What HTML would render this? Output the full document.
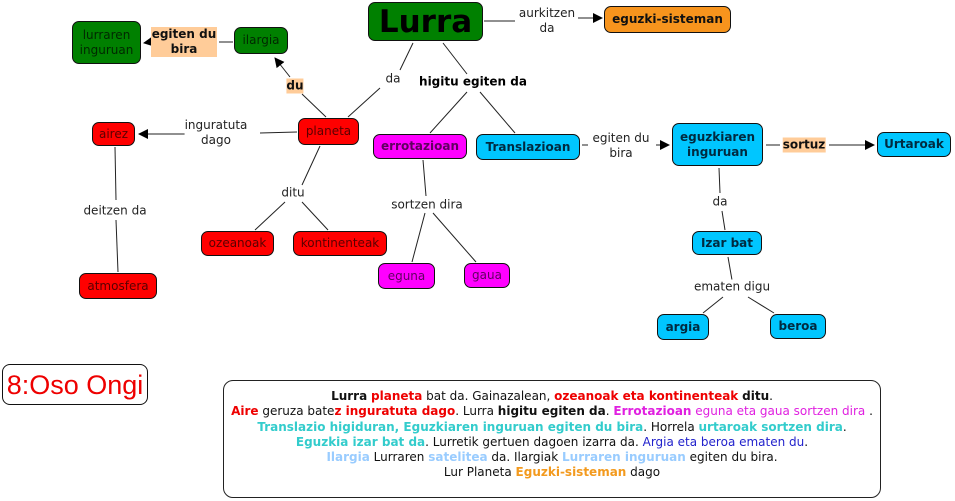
<!DOCTYPE html>
<html><head><meta charset="utf-8"><style>
body{margin:0;width:955px;height:501px;background:#fff;position:relative;overflow:hidden;font-family:"DejaVu Sans","Liberation Sans",sans-serif;}
.n{position:absolute;box-sizing:border-box;display:flex;align-items:center;justify-content:center;text-align:center;border:1px solid #111;border-radius:7px;font-size:12px;line-height:15px;white-space:nowrap}
.g{background:#008000;color:#002800}
.r{background:#f00;color:#5a0000}
.m{background:#f0f;color:#600060}
.c{background:#00c6ff;color:#002a40;font-weight:bold}
.l{position:absolute;font-size:12px;line-height:15px;text-align:center;color:#222;background:#fff;transform:translate(-50%,-50%);white-space:nowrap}
.p{background:#ffcc99;font-weight:bold;color:#111}
svg{position:absolute;left:0;top:0}
</style></head><body>
<svg width="955" height="501">
<defs><marker id="a" markerWidth="10" markerHeight="10" refX="9" refY="5" orient="auto" markerUnits="userSpaceOnUse"><path d="M0,0 L10,5 L0,10 z" fill="#000"/></marker></defs>
<g stroke="#222" stroke-width="1" fill="none">
<line x1="484" y1="21" x2="515" y2="21"/>
<line x1="578" y1="18" x2="602" y2="18" marker-end="url(#a)"/>
<line x1="413" y1="43" x2="400" y2="70"/>
<line x1="380" y1="88" x2="348" y2="117"/>
<line x1="443" y1="43" x2="467" y2="74"/>
<line x1="467" y1="92" x2="430" y2="133"/>
<line x1="480" y1="92" x2="515" y2="133"/>
<line x1="326" y1="117" x2="302" y2="94"/>
<line x1="290" y1="77" x2="275" y2="58" marker-end="url(#a)"/>
<line x1="233" y1="42" x2="219" y2="42"/>
<line x1="150" y1="42" x2="144" y2="43" marker-end="url(#a)"/>
<line x1="297" y1="132" x2="260" y2="133"/>
<line x1="190" y1="134" x2="139" y2="134" marker-end="url(#a)"/>
<line x1="320" y1="146" x2="302" y2="185"/>
<line x1="285" y1="202" x2="255" y2="230"/>
<line x1="302" y1="202" x2="328" y2="230"/>
<line x1="115" y1="147" x2="116" y2="200"/>
<line x1="116" y1="220" x2="118" y2="272"/>
<line x1="423" y1="160" x2="426" y2="196"/>
<line x1="425" y1="213" x2="412" y2="262"/>
<line x1="433" y1="213" x2="476" y2="262"/>
<line x1="582" y1="145" x2="588" y2="145"/>
<line x1="656" y1="145" x2="669" y2="145" marker-end="url(#a)"/>
<line x1="766" y1="145" x2="780" y2="145"/>
<line x1="829" y1="145" x2="874" y2="145" marker-end="url(#a)"/>
<line x1="719" y1="168" x2="720" y2="193"/>
<line x1="722" y1="211" x2="725" y2="230"/>
<line x1="728" y1="257" x2="732" y2="280"/>
<line x1="723" y1="297" x2="703" y2="313"/>
<line x1="748" y1="297" x2="774" y2="313"/>
</g></svg>

<div class="n g" style="left:368px;top:2px;width:115px;height:39px;font-size:31px;font-weight:bold;color:#000;line-height:36px">Lurra</div>
<div class="n" style="left:604px;top:6px;width:127px;height:27px;background:#f7941d;font-weight:bold;color:#111">eguzki-sisteman</div>
<div class="l" style="left:547px;top:21px">aurkitzen<br>da</div>
<div class="n g" style="left:234px;top:27px;width:54px;height:27px">ilargia</div>
<div class="n g" style="left:72px;top:21px;width:69px;height:43px">lurraren<br>inguruan</div>
<div class="l p" style="left:184px;top:42px;width:66px">egiten du<br>bira</div>
<div class="l p" style="left:295px;top:86px">du</div>
<div class="l" style="left:393px;top:79px">da</div>
<div class="l" style="left:473px;top:82px;font-weight:bold;color:#000">higitu egiten da</div>
<div class="n r" style="left:298px;top:118px;width:61px;height:27px">planeta</div>
<div class="n r" style="left:92px;top:122px;width:43px;height:24px">airez</div>
<div class="l" style="left:216px;top:133px">inguratuta<br>dago</div>
<div class="l" style="left:293px;top:193px">ditu</div>
<div class="n r" style="left:201px;top:231px;width:73px;height:25px">ozeanoak</div>
<div class="n r" style="left:293px;top:231px;width:94px;height:25px">kontinenteak</div>
<div class="l" style="left:115px;top:211px">deitzen da</div>
<div class="n r" style="left:79px;top:273px;width:78px;height:26px">atmosfera</div>
<div class="n m" style="left:373px;top:134px;width:94px;height:25px;font-weight:bold">errotazioan</div>
<div class="n c" style="left:476px;top:134px;width:104px;height:26px">Translazioan</div>
<div class="l" style="left:621px;top:146px">egiten du<br>bira</div>
<div class="n c" style="left:672px;top:123px;width:91px;height:43px">eguzkiaren<br>inguruan</div>
<div class="l p" style="left:804px;top:145px">sortuz</div>
<div class="n c" style="left:877px;top:132px;width:74px;height:25px">Urtaroak</div>
<div class="l" style="left:720px;top:202px">da</div>
<div class="n c" style="left:692px;top:231px;width:70px;height:24px">Izar bat</div>
<div class="l" style="left:732px;top:287px">ematen digu</div>
<div class="n c" style="left:657px;top:314px;width:52px;height:26px">argia</div>
<div class="n c" style="left:770px;top:314px;width:56px;height:25px">beroa</div>
<div class="l" style="left:427px;top:205px">sortzen dira</div>
<div class="n m" style="left:378px;top:263px;width:57px;height:26px">eguna</div>
<div class="n m" style="left:464px;top:263px;width:46px;height:25px">gaua</div>

<div class="n" style="left:2px;top:364px;width:146px;height:41px;border-radius:8px;font-family:'Liberation Sans','DejaVu Sans',sans-serif;font-size:27px;color:#e00;line-height:30px">8:Oso Ongi</div>

<div style="position:absolute;left:223px;top:380px;width:658px;height:118px;box-sizing:border-box;border:1px solid #222;border-radius:10px;text-align:center;font-size:12px;line-height:15.3px;padding-top:8px;color:#111;white-space:nowrap">
<b>Lurra</b> <b style="color:#e00">planeta</b> bat da. Gainazalean, <b style="color:#e00">ozeanoak eta kontinenteak</b> <b>ditu</b>.<br>
<b style="color:#e00">Aire</b> geruza bate<b style="color:#e00">z inguratuta dago</b>. Lurra <b>higitu egiten da</b>. <b style="color:#e020e0">Errotazioan</b> <span style="color:#e020e0">eguna eta gaua sortzen dira</span> .<br>
<b style="color:#3cc">Translazio higiduran, Eguzkiaren inguruan egiten du bira</b>. Horrela <b style="color:#3cc">urtaroak sortzen dira</b>.<br>
<b style="color:#3cc">Eguzkia izar bat da</b>. Lurretik gertuen dagoen izarra da. <span style="color:#22c">Argia eta beroa ematen du</span>.<br>
<b style="color:#9cf">Ilargia</b> Lurraren <b style="color:#9cf">satelitea</b> da. Ilargiak <b style="color:#9cf">Lurraren inguruan</b> egiten du bira.<br>
Lur Planeta <b style="color:#f39a1e">Eguzki-sisteman</b> dago
</div>
</body></html>
